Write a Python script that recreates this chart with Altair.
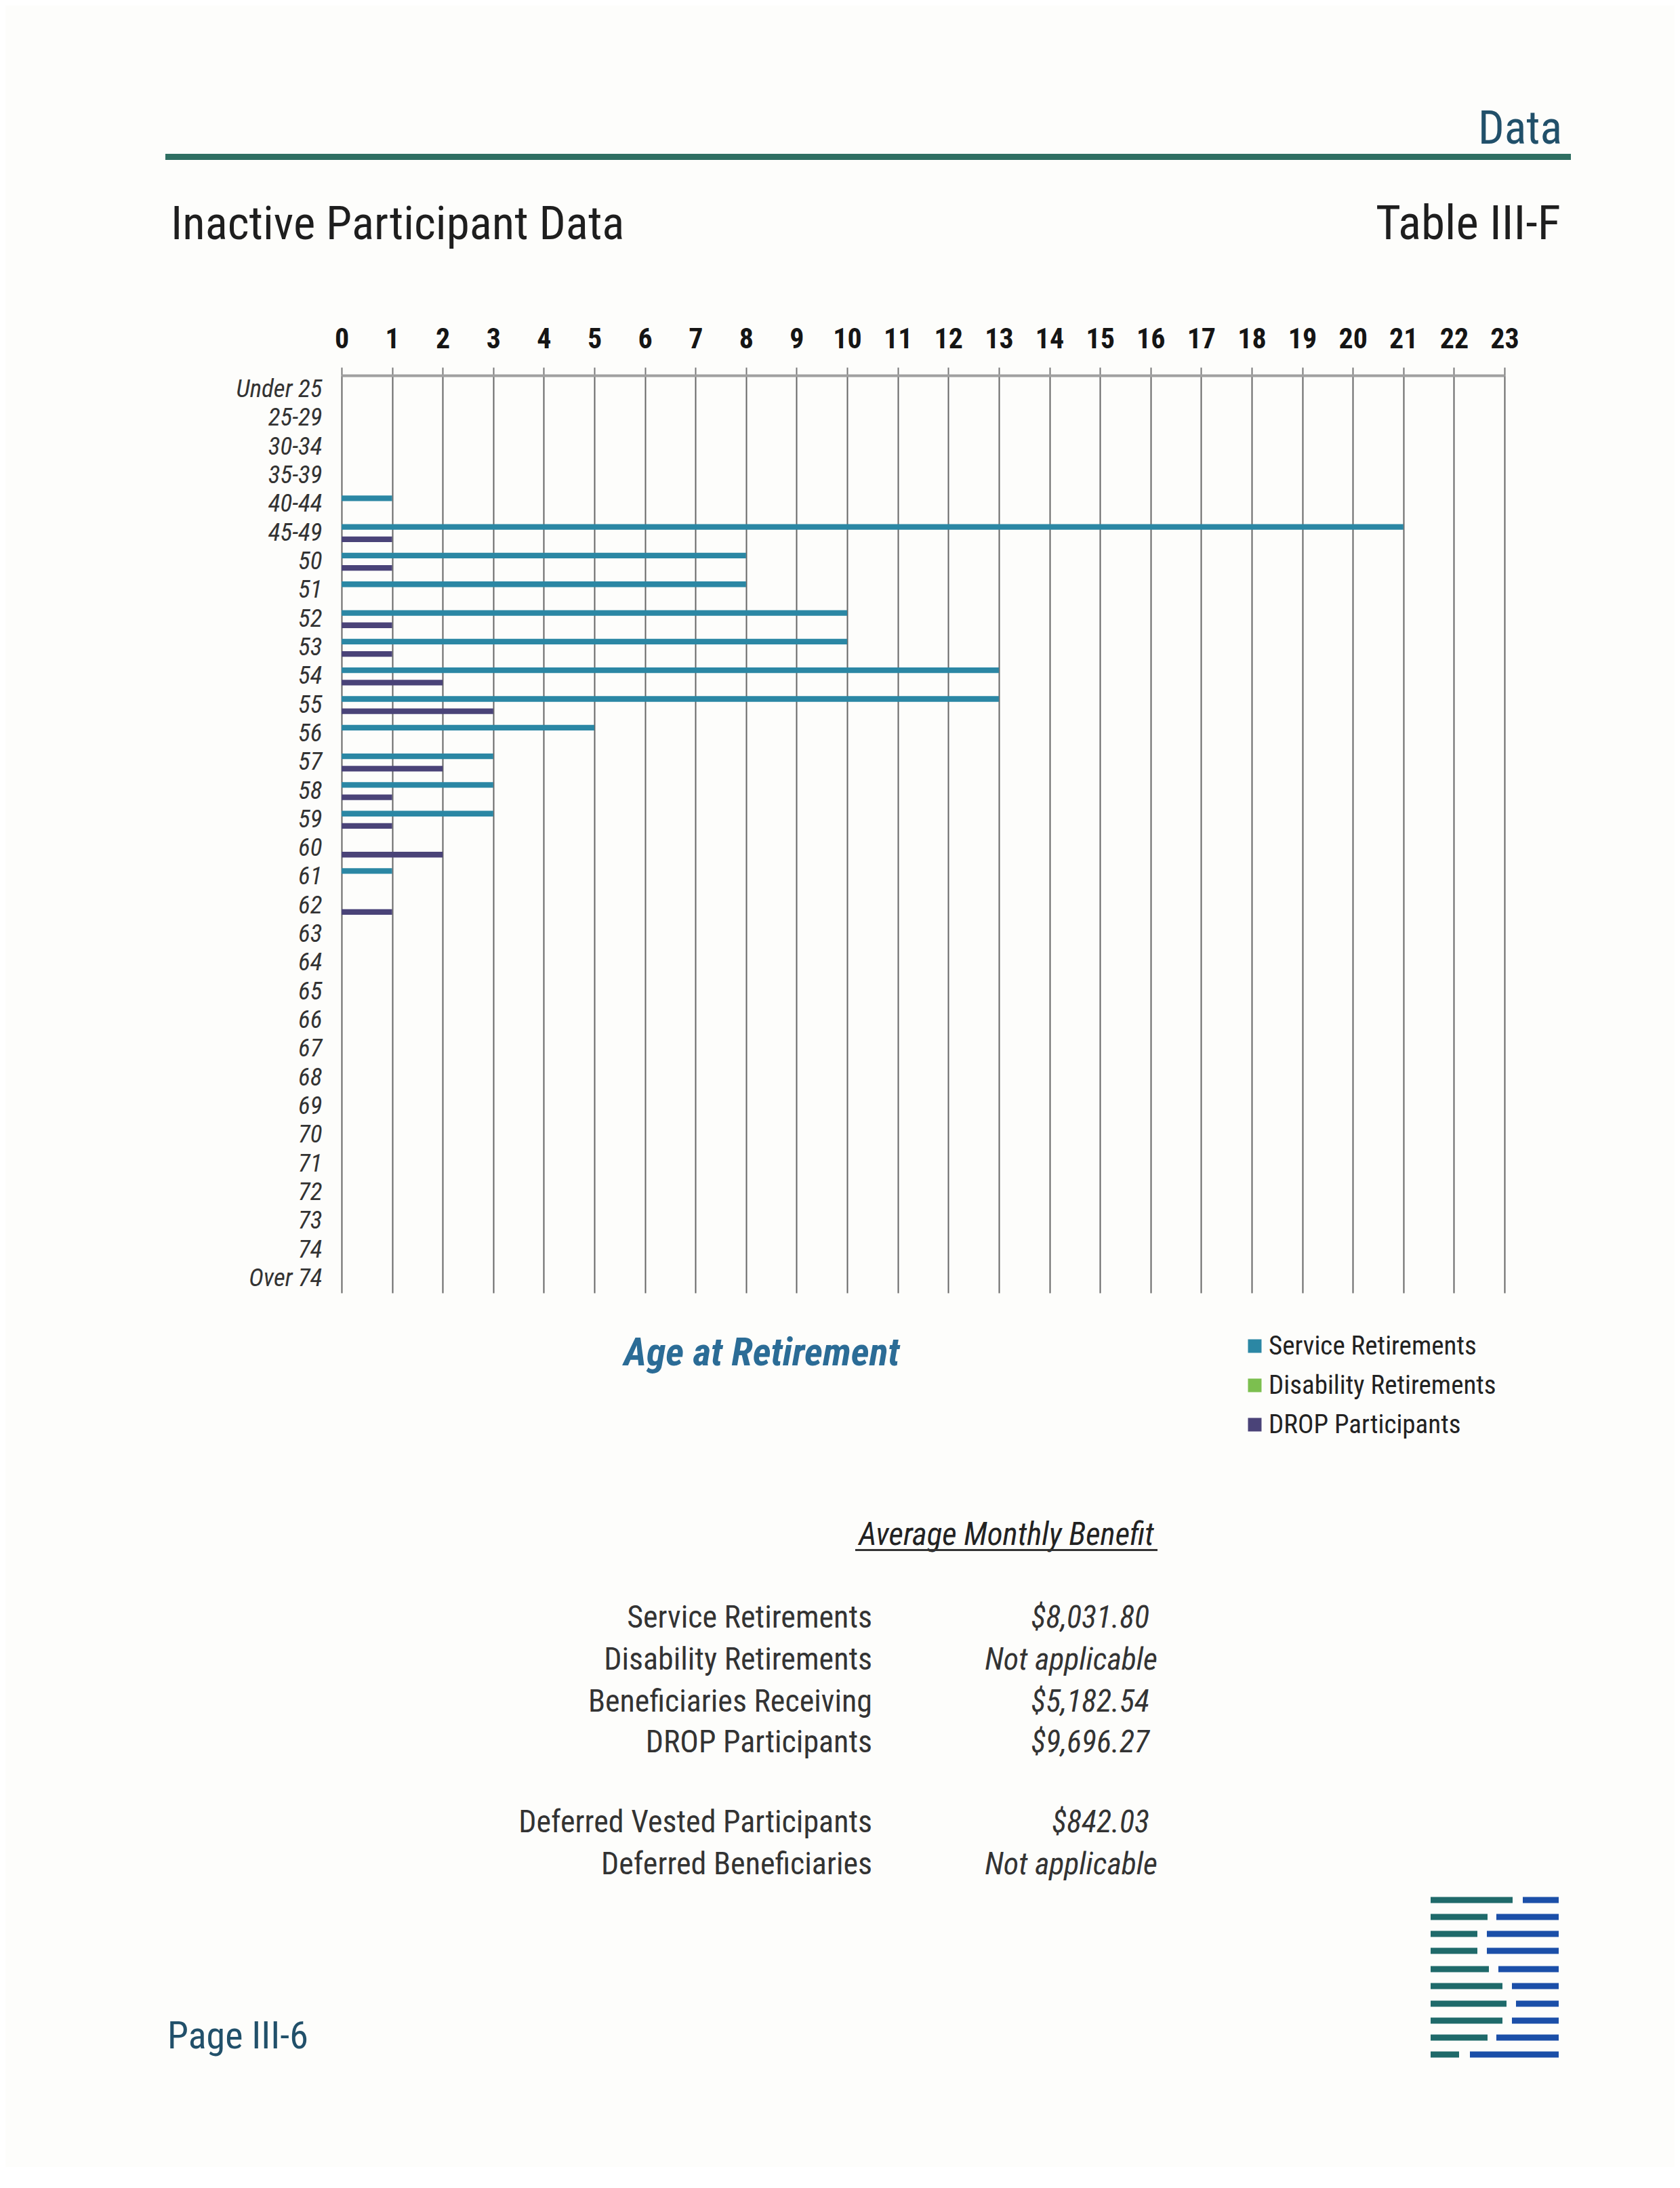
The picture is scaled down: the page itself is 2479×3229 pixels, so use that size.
import altair as alt
import pandas as pd

# ---------------- data ----------------
ages = ["Under 25", "25-29", "30-34", "35-39", "40-44", "45-49",
        "50", "51", "52", "53", "54", "55", "56", "57", "58", "59",
        "60", "61", "62", "63", "64", "65", "66", "67", "68", "69",
        "70", "71", "72", "73", "74", "Over 74"]
service = [0, 0, 0, 0, 1, 21, 8, 8, 10, 10, 13, 13, 5, 3, 3, 3,
           0, 1, 0, 0, 0, 0, 0, 0, 0, 0, 0, 0, 0, 0, 0, 0]
disability = [0, 0, 0, 0, 0, 0, 0, 0, 0, 0, 0, 0, 0, 0, 0, 0,
              0, 0, 0, 0, 0, 0, 0, 0, 0, 0, 0, 0, 0, 0, 0, 0]
drop = [0, 0, 0, 0, 0, 1, 1, 0, 1, 1, 2, 3, 0, 2, 1, 1,
        2, 0, 1, 0, 0, 0, 0, 0, 0, 0, 0, 0, 0, 0, 0, 0]
series = ["Service Retirements", "Disability Retirements", "DROP Participants"]
colors = ["#2b87a4", "#7cbf4f", "#4a4378"]
x_ticks = [0, 1, 2, 3, 4, 5, 6, 7, 8, 9, 10, 11, 12, 13, 14, 15, 16, 17, 18, 19, 20, 21, 22, 23]

benefit_labels = ["Service Retirements", "Disability Retirements", "Beneficiaries Receiving",
                  "DROP Participants", "Deferred Vested Participants", "Deferred Beneficiaries"]
benefit_values = ["$8,031.80", "Not applicable", "$5,182.54", "$9,696.27",
                  "$842.03", "Not applicable"]

rows = []
for i, a in enumerate(ages):
    rows.append({"age": a, "series": series[0], "count": service[i]})
    rows.append({"age": a, "series": series[1], "count": disability[i]})
    rows.append({"age": a, "series": series[2], "count": drop[i]})
df = pd.DataFrame(rows)

NARROW = "Roboto Condensed, Liberation Sans Narrow, Arial Narrow, Liberation Sans, sans-serif"
W, H = 1716, 1354

bars = alt.Chart(df).mark_bar().encode(
    y=alt.Y("age:N", sort=ages,
            scale=alt.Scale(domain=ages, paddingInner=0, paddingOuter=0),
            axis=alt.Axis(title=None, ticks=False, tickSize=0, domain=False,
                          labelFont=NARROW, labelFontSize=37, labelFontStyle="italic",
                          labelColor="#333333", labelPadding=29, labelOverlap=False)),
    x=alt.X("count:Q",
            scale=alt.Scale(domain=[0, 23], nice=False, zero=True),
            axis=alt.Axis(title=None, orient="top", values=x_ticks, format="d",
                          labelFont=NARROW, labelFontSize=42, labelFontWeight="bold",
                          labelColor="#151515", labelFlush=False, labelOverlap=False,
                          labelPadding=20, tickSize=12, tickWidth=2, tickColor="#777777",
                          domainColor="#a0a0a0", domainWidth=4,
                          grid=True, gridColor="#666666", gridWidth=2)),
    yOffset=alt.YOffset("series:N", sort=series,
                        scale=alt.Scale(domain=series, paddingInner=0.09, paddingOuter=0.87)),
    color=alt.Color("series:N", sort=series,
                    scale=alt.Scale(domain=series, range=colors),
                    legend=alt.Legend(title=None, orient="none", legendX=1328, legendY=1413,
                                      symbolType="square", symbolSize=400,
                                      symbolStrokeWidth=0, symbolOpacity=1,
                                      labelFont=NARROW, labelFontSize=39, labelColor="#222222",
                                      labelOffset=1, rowPadding=18, labelLimit=600)),
)

one = pd.DataFrame({"d": [0]})
layers = [bars]


def text_layer(txt, x, y, size, align="left", baseline="alphabetic", color="#222222",
               weight="normal", style="normal", font=NARROW):
    return alt.Chart(one).mark_text(
        text=txt, align=align, baseline=baseline, fontSize=size, font=font,
        color=color, fontWeight=weight, fontStyle=style
    ).encode(x=alt.value(x), y=alt.value(y))


def rect_layer(x1, x2, y1, y2, color):
    return alt.Chart(one).mark_rect(color=color).encode(
        x=alt.value(x1), x2=alt.value(x2), y=alt.value(y1), y2=alt.value(y2))


# header
layers.append(text_layer("Data", 1801, -342, 68, align="right", color="#21506a"))
layers.append(rect_layer(-260, 1814, -327, -318, "#2f6f62"))
layers.append(text_layer("Inactive Participant Data", -252, -201, 69, color="#1e1e1e"))
layers.append(text_layer("Table III-F", 1799, -201, 71, align="right", color="#1e1e1e"))

# axis title
layers.append(text_layer("Age at Retirement", 620, 1461, 58, align="center",
                         color="#2b6c96", weight="bold", style="italic"))

# benefit table
layers.append(text_layer("Average Monthly Benefit", 981, 1726, 47, align="center",
                         color="#222222", style="italic"))
layers.append(rect_layer(758, 1204, 1732, 1735, "#333333"))
row_y = [1834, 1896, 1958, 2018, 2136, 2198]
val_x = [1192, 1204, 1192, 1192, 1192, 1204]
for lab, val, yy, vx in zip(benefit_labels, benefit_values, row_y, val_x):
    layers.append(text_layer(lab, 783, yy, 46, align="right", baseline="middle", color="#333333"))
    layers.append(text_layer(val, vx, yy, 46, align="right", baseline="middle",
                             color="#333333", style="italic"))

# footer
layers.append(text_layer("Page III-6", -257, 2469, 56, color="#21506a"))

# logo stripes
logo_y = [2250, 2275, 2300, 2325, 2352, 2377, 2403, 2428, 2453, 2478]
logo_left_end = [1728, 1691, 1676, 1676, 1693, 1713, 1719, 1713, 1691, 1649]
logo_right_start = [1743, 1704, 1690, 1690, 1707, 1727, 1733, 1727, 1704, 1665]
for yy, le, rs in zip(logo_y, logo_left_end, logo_right_start):
    layers.append(rect_layer(1607, le, yy - 4.5, yy + 4.5, "#1f6a6a"))
    layers.append(rect_layer(rs, 1796, yy - 4.5, yy + 4.5, "#1b4fa8"))

chart = alt.layer(*layers).properties(
    width=W, height=H,
    padding={"left": 496, "top": 546, "right": 251, "bottom": 1290},
    autosize=alt.AutoSizeParams(type="none"),
    background="#fdfdfb",
).configure_view(strokeWidth=0)

chart.save("out.html", embed_options={"renderer": "svg", "actions": False})
